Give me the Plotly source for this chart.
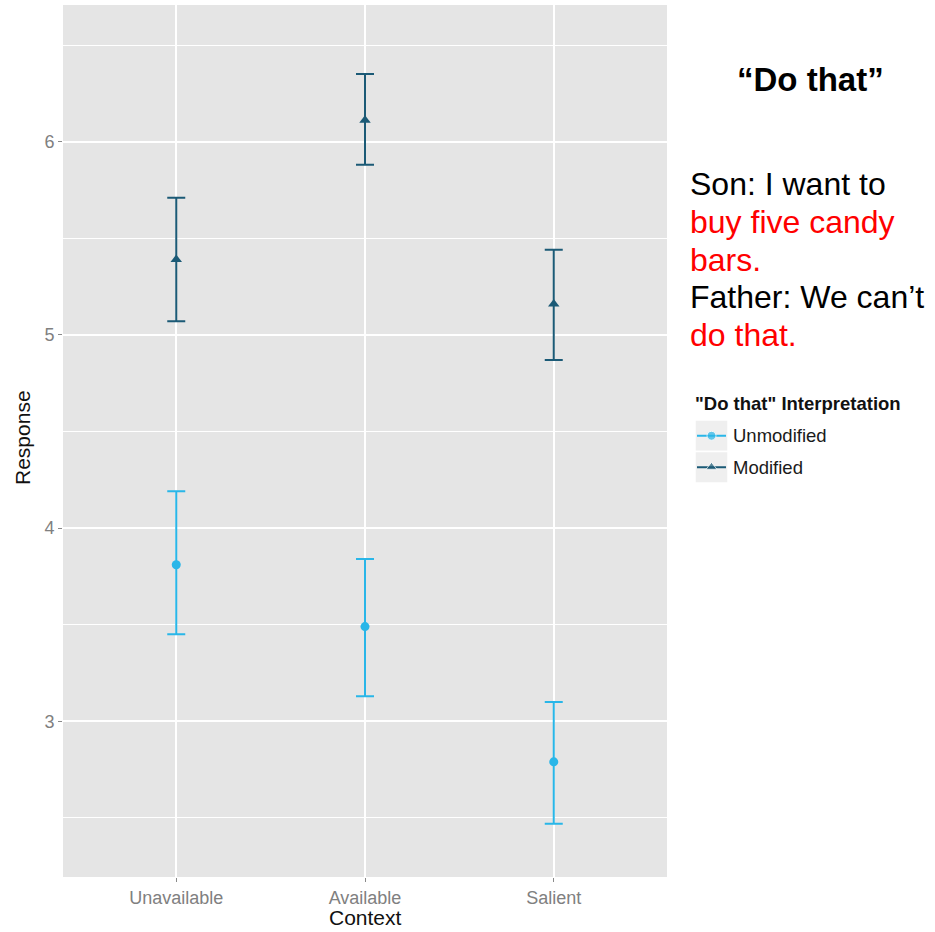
import plotly.graph_objects as go

# Mean response per context, with lower/upper interval bounds
contexts = ["Unavailable", "Available", "Salient"]
unmod_mean = [3.81, 3.49, 2.79]
unmod_lo = [3.45, 3.13, 2.47]
unmod_hi = [4.19, 3.84, 3.10]
mod_mean = [5.39, 6.11, 5.16]
mod_lo = [5.07, 5.88, 4.87]
mod_hi = [5.71, 6.35, 5.44]
y_ticks = [3, 4, 5, 6]

C_UNMOD = "#29b6e8"
C_MOD = "#1b5a76"
FONT = "Liberation Sans, Arial, sans-serif"

W, H = 935, 932
ML, MR, MT, MB = 63, 5, 5, 55
PW, PH = W - ML - MR, H - MT - MB


def px_x(p):
    return (p - ML) / PW


def px_y(p):
    return (H - MB - p) / PH


def err(mean, lo, hi):
    return dict(type="data", symmetric=False,
                array=[h - m for m, h in zip(mean, hi)],
                arrayminus=[m - l for m, l in zip(mean, lo)],
                thickness=2, width=9)


fig = go.Figure()
fig.add_trace(go.Scatter(
    x=contexts, y=unmod_mean, mode="markers", name="Unmodified",
    marker=dict(symbol="circle", size=9, color=C_UNMOD),
    error_y=dict(**err(unmod_mean, unmod_lo, unmod_hi), color=C_UNMOD),
    showlegend=False))
fig.add_trace(go.Scatter(
    x=contexts, y=mod_mean, mode="markers", name="Modified",
    marker=dict(symbol="triangle-up", size=10, color=C_MOD),
    error_y=dict(**err(mod_mean, mod_lo, mod_hi), color=C_MOD),
    showlegend=False))

# Legend keys drawn on a small auxiliary axis pair
legend_series = [("Unmodified", C_UNMOD, "circle", 9, 1.5),
                 ("Modified", C_MOD, "triangle-up", 10, 0.5)]
for name, col, sym, size, yk in legend_series:
    fig.add_trace(go.Scatter(
        x=[0.06, 0.5, 0.94], y=[yk, yk, yk], mode="lines+markers",
        line=dict(color=col, width=2),
        marker=dict(symbol=sym, size=[0, size, 0], color=col),
        xaxis="x2", yaxis="y2", showlegend=False, hoverinfo="skip"))
    fig.add_shape(type="rect", xref="x2", yref="y2",
                  x0=0, x1=1, y0=yk - 0.5, y1=yk + 0.5,
                  fillcolor="#efefef", line=dict(color="white", width=1.5),
                  layer="below")

fig.update_layout(
    width=W, height=H,
    margin=dict(l=ML, r=MR, t=MT, b=MB),
    paper_bgcolor="white",
    plot_bgcolor="white",
    font=dict(family=FONT),
    xaxis=dict(
        domain=[0, px_x(667)],
        type="category", categoryorder="array", categoryarray=contexts,
        range=[-0.6, 2.6],
        showgrid=True, gridcolor="white", gridwidth=2,
        ticks="outside", ticklen=4, tickwidth=1.2, tickcolor="#8a8a8a",
        tickfont=dict(size=18, color="#808080", family=FONT),
        zeroline=False, showline=False, fixedrange=True),
    yaxis=dict(
        range=[2.194, 6.707],
        tickvals=y_ticks,
        showgrid=True, gridcolor="white", gridwidth=2,
        minor=dict(dtick=0.5, showgrid=True, gridcolor="white", gridwidth=1),
        ticks="outside", ticklen=4, tickwidth=1.2, tickcolor="#8a8a8a",
        tickfont=dict(size=18, color="#808080", family=FONT),
        zeroline=False, showline=False, fixedrange=True),
    xaxis2=dict(domain=[px_x(695), px_x(728)], range=[0, 1], visible=False,
                anchor="y2", fixedrange=True),
    yaxis2=dict(domain=[px_y(483), px_y(420)], range=[0, 2], visible=False,
                anchor="x2", fixedrange=True),
)

# Grey panel behind the plotting area
fig.add_shape(type="rect", xref="x domain", yref="y domain",
              x0=0, x1=1, y0=0, y1=1, fillcolor="#e5e5e5",
              line=dict(width=0), layer="below")

ann = []
ann.append(dict(text="Context", x=px_x(365), y=px_y(918), xref="paper", yref="paper",
                showarrow=False, font=dict(size=21, color="#111111"),
                xanchor="center", yanchor="middle"))
ann.append(dict(text="Response", x=px_x(22), y=px_y(438), xref="paper", yref="paper",
                showarrow=False, textangle=-90, font=dict(size=21, color="#111111"),
                xanchor="center", yanchor="middle"))
ann.append(dict(text="<b>\"Do that\" Interpretation</b>", x=px_x(693), y=px_y(404),
                xref="paper", yref="paper", showarrow=False,
                font=dict(size=18.5, color="#111111"), xanchor="left", yanchor="middle"))
for (name, col, sym, size, yk), ypx in zip(legend_series, [436, 468]):
    ann.append(dict(text=name, x=px_x(731), y=px_y(ypx), xref="paper", yref="paper",
                    showarrow=False, font=dict(size=18.5, color="#1a1a1a"),
                    xanchor="left", yanchor="middle"))

ann.append(dict(text="<b>\u201cDo that\u201d</b>", x=px_x(810), y=px_y(80),
                xref="paper", yref="paper", showarrow=False,
                font=dict(size=33, color="black"), xanchor="center", yanchor="middle"))
story = [("Son: I want to", "black"),
         ("buy five candy", "#ff0000"),
         ("bars.", "#ff0000"),
         ("Father: We can\u2019t", "black"),
         ("do that.", "#ff0000")]
for i, (line, col) in enumerate(story):
    ann.append(dict(text=line, x=px_x(688), y=px_y(184 + 37.8 * i),
                    xref="paper", yref="paper", showarrow=False,
                    font=dict(size=32, color=col), xanchor="left", yanchor="middle"))

fig.update_layout(annotations=ann)
fig.write_html("out.html")
